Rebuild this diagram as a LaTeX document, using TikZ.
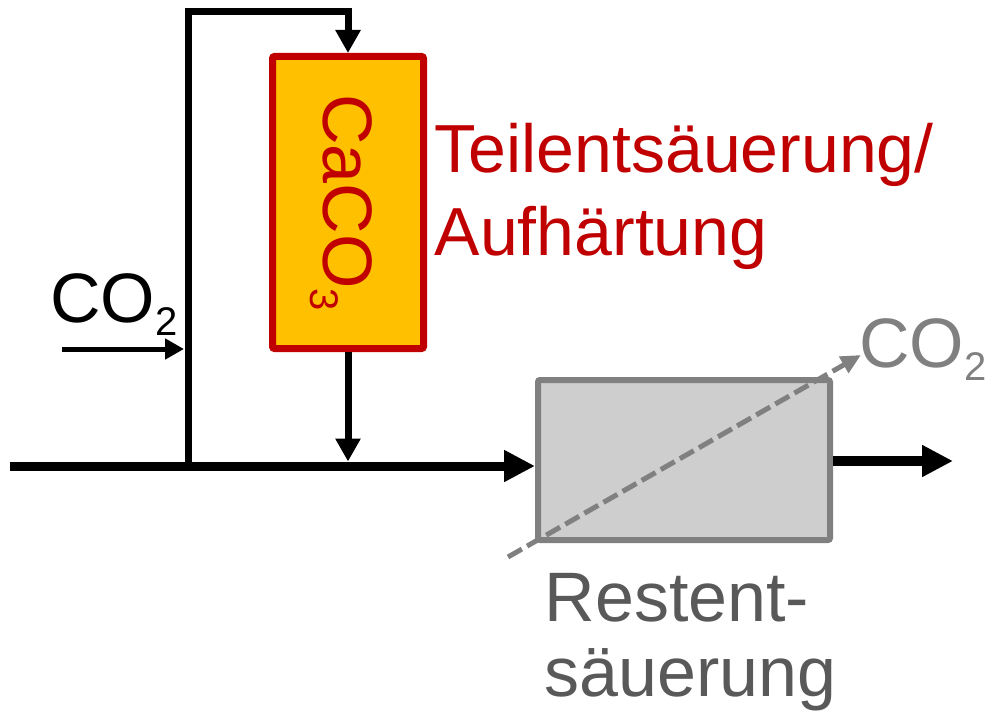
\documentclass[tikz,border=0pt]{standalone}
\usepackage{fontspec}
\setmainfont{Liberation Sans}
\usetikzlibrary{arrows.meta,positioning}
\definecolor{wtred}{RGB}{192,0,0}
\definecolor{wtorange}{RGB}{255,192,0}
\definecolor{wtgray}{RGB}{128,128,128}
\definecolor{wtlight}{RGB}{206,206,206}
\definecolor{wtdark}{RGB}{89,89,89}
\newcommand\chemsub[1]{\raisebox{-0.19em}[0pt][0pt]{\fontsize{40}{40}\selectfont #1}}
\tikzset{
  reactor/.style={rectangle, rounded corners=2pt, draw=wtred, fill=wtorange, line width=7pt,
    minimum width=151pt, minimum height=292pt, inner sep=0pt, text=wtred,
    font=\fontsize{70}{84}\selectfont},
  membrane/.style={rectangle, rounded corners=2pt, draw=wtgray, fill=wtlight, line width=6pt,
    minimum width=292pt, minimum height=160pt},
  lbl/.style={inner sep=0pt, font=\fontsize{70}{84}\selectfont},
  mainarr/.style={-{Triangle[length=31pt,width=30pt]}, line width=9pt},
  farr/.style={-{Triangle[length=23pt,width=24pt]}, line width=7pt},
  garr/.style={-{Triangle[length=19pt,width=20pt]}, line width=5pt},
  vent/.style={-{Triangle[length=20pt,width=18pt]}, line width=5pt, draw=wtgray,
    dash pattern=on 16pt off 6pt},
}
\begin{document}
\begin{tikzpicture}[x=1pt,y=-1pt]
    \useasboundingbox (0,0) rectangle (990,711);
    \node[reactor](caco) at (348,202.5){\rotatebox{-90}{CaCO\chemsub{3}}};
    \node[membrane](memb) at (684,460){};
    \coordinate (in) at (10,466);
    \coordinate (junc) at (188,466);
    \coordinate (loop) at (188,12);
    \coordinate (gas) at (62,349);
    \coordinate (out) at (953,461);
    \coordinate (vst) at (508,557);
    \coordinate (vend) at (861,355);
    \node[lbl,anchor=base west](co2in) at (50,322){CO\chemsub{2}};
    \node[lbl,anchor=base west,text=wtgray](co2out) at (859,367){CO\chemsub{2}};
    \node[lbl,anchor=north west,align=left,text=wtred,font=\fontsize{68}{83}\selectfont](teil) at (434.5,123.3){Teilentsäuerung/\\Aufhärtung};
    \node[lbl,anchor=north west,align=left,text=wtdark,font=\fontsize{70}{75}\selectfont](rest) at (544.5,573){Restent-\\säuerung};
    \draw[farr](junc)--(loop)-|(caco.north);
    \draw[farr,shorten >=4.5pt](caco.south)--(caco.south |- junc);
    \draw[garr,shorten >=4pt](gas)--(gas -| junc);
    \draw[mainarr](in)--(in -| memb.west);
    \draw[mainarr,line width=10pt](memb.east |- out)--(out);
    \draw[vent](vst)--(vend);
  \end{tikzpicture}
\end{document}
